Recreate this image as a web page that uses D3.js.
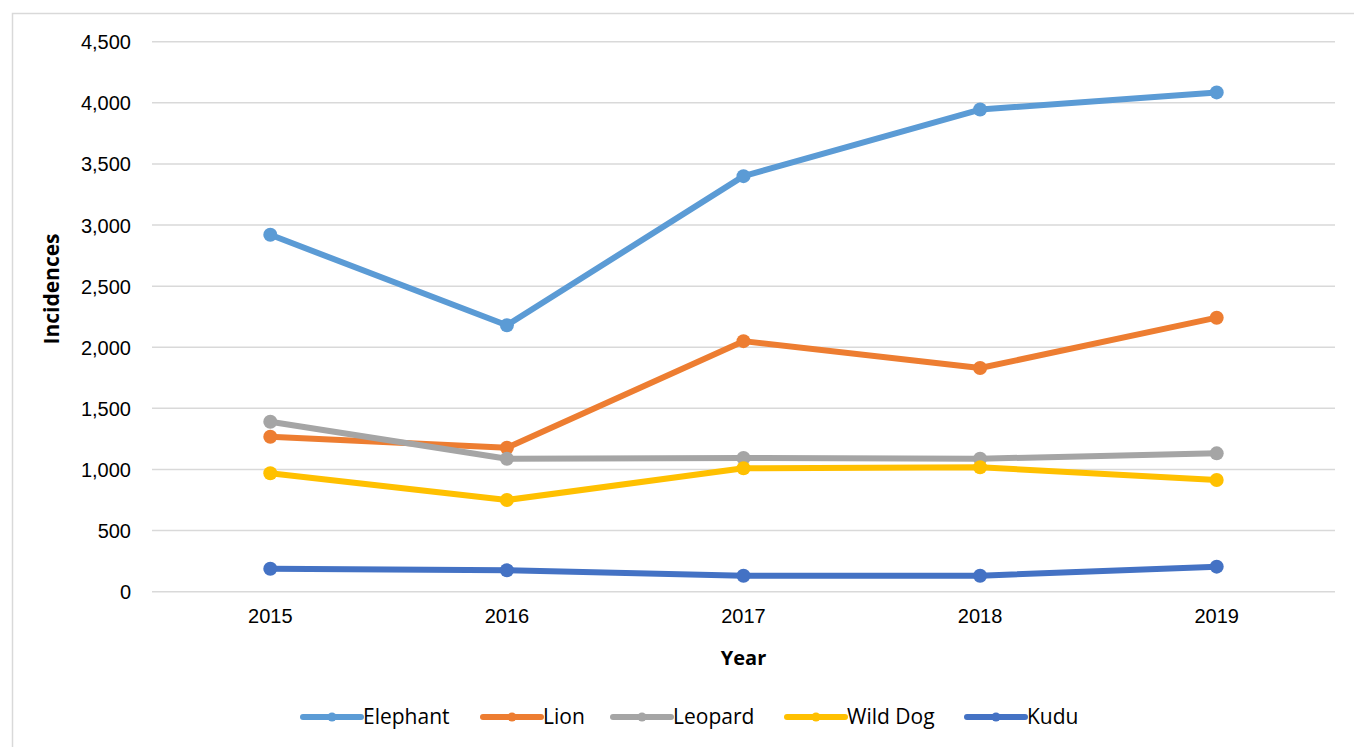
<!DOCTYPE html>
<html>
<head>
<meta charset="utf-8">
<script src="https://cdn.jsdelivr.net/npm/d3@7"></script>
<style>
  html, body { margin: 0; padding: 0; background: #fff; }
  svg { display: block; font-family: "Century Gothic", "Open Sans", "DejaVu Sans", sans-serif; }
</style>
</head>
<body>
<svg id="chart" width="1354" height="747"></svg>
<script>
// Human-wildlife conflict incidences by species, 2015-2019
const years = ["2015", "2016", "2017", "2018", "2019"];
const seriesNames = ["Elephant", "Lion", "Leopard", "Wild Dog", "Kudu"];
const elephant = [2920, 2180, 3400, 3945, 4085];
const lion = [1268, 1178, 2050, 1830, 2242];
const leopard = [1391, 1088, 1094, 1088, 1132];
const wildDog = [969, 750, 1010, 1018, 914];
const kudu = [188, 175, 131, 131, 205];
const yTicks = [0, 500, 1000, 1500, 2000, 2500, 3000, 3500, 4000, 4500];
const colors = ["#5B9BD5", "#ED7D31", "#A5A5A5", "#FFC000", "#4472C4"];

const series = [elephant, lion, leopard, wildDog, kudu].map((vals, i) => ({
  name: seriesNames[i], color: colors[i],
  points: vals.map((v, j) => ({ year: years[j], value: v }))
}));

const svg = d3.select("#chart");

// outer chart frame
svg.append("rect")
  .attr("x", 12.5).attr("y", 13.5).attr("width", 1400).attr("height", 800)
  .attr("fill", "none").attr("stroke", "#d9d9d9").attr("stroke-width", 1.5);

const plot = { left: 152, right: 1335, top: 41.7, bottom: 591.7 };

const x = d3.scaleBand().domain(years).range([plot.left, plot.right]);
const y = d3.scaleLinear().domain([0, 4500]).range([plot.bottom, plot.top]);

// horizontal gridlines
svg.append("g")
  .selectAll("line").data(yTicks).join("line")
  .attr("x1", plot.left).attr("x2", plot.right)
  .attr("y1", d => y(d)).attr("y2", d => y(d))
  .attr("stroke", "#d9d9d9").attr("stroke-width", 1.5);

// y axis labels
const yAxis = d3.axisLeft(y).tickValues(yTicks).tickSize(0).tickPadding(0)
  .tickFormat(d3.format(","));
svg.append("g")
  .attr("transform", `translate(131,0)`)
  .call(yAxis)
  .call(g => g.select(".domain").remove())
  .call(g => g.selectAll("text")
    .attr("font-size", 20).attr("fill", "#000")
    .attr("font-family", null).attr("dy", "0.35em"));

// x axis labels
const xAxis = d3.axisBottom(x).tickSize(0).tickPadding(0);
svg.append("g")
  .attr("transform", `translate(0,${plot.bottom + 17})`)
  .call(xAxis)
  .call(g => g.select(".domain").remove())
  .call(g => g.selectAll("text")
    .attr("font-size", 20).attr("fill", "#000")
    .attr("font-family", null).attr("dy", "0.71em"));

// axis titles
svg.append("text")
  .attr("x", (plot.left + plot.right) / 2).attr("y", 665)
  .attr("text-anchor", "middle").attr("font-size", 20).attr("font-weight", "bold")
  .text("Year");
svg.append("text")
  .attr("transform", `translate(59,${289}) rotate(-90)`)
  .attr("text-anchor", "middle").attr("font-size", 21).attr("font-weight", "bold")
  .text("Incidences");

const line = d3.line()
  .x(d => x(d.year) + x.bandwidth() / 2)
  .y(d => y(d.value));

const seriesG = svg.append("g").selectAll("g").data(series).join("g");
seriesG.append("path")
  .attr("d", d => line(d.points))
  .attr("fill", "none").attr("stroke", d => d.color)
  .attr("stroke-width", 6).attr("stroke-linejoin", "round");
seriesG.selectAll("circle").data(d => d.points.map(p => ({ ...p, color: d.color }))).join("circle")
  .attr("cx", d => x(d.year) + x.bandwidth() / 2)
  .attr("cy", d => y(d.value))
  .attr("r", 7).attr("fill", d => d.color);

// legend
const legendX = [303, 483, 613, 787, 967];
const legend = svg.append("g").selectAll("g").data(series).join("g")
  .attr("transform", (d, i) => `translate(${legendX[i]},717)`);
legend.append("line")
  .attr("x1", 0).attr("x2", 58).attr("y1", 0).attr("y2", 0)
  .attr("stroke", d => d.color).attr("stroke-width", 6).attr("stroke-linecap", "round");
legend.append("circle").attr("cx", 29).attr("cy", 0).attr("r", 4.5).attr("fill", d => d.color);
legend.append("text")
  .attr("x", 60).attr("y", 0).attr("dy", "0.35em")
  .attr("font-size", 21).attr("fill", "#000")
  .text(d => d.name);
</script>
</body>
</html>
